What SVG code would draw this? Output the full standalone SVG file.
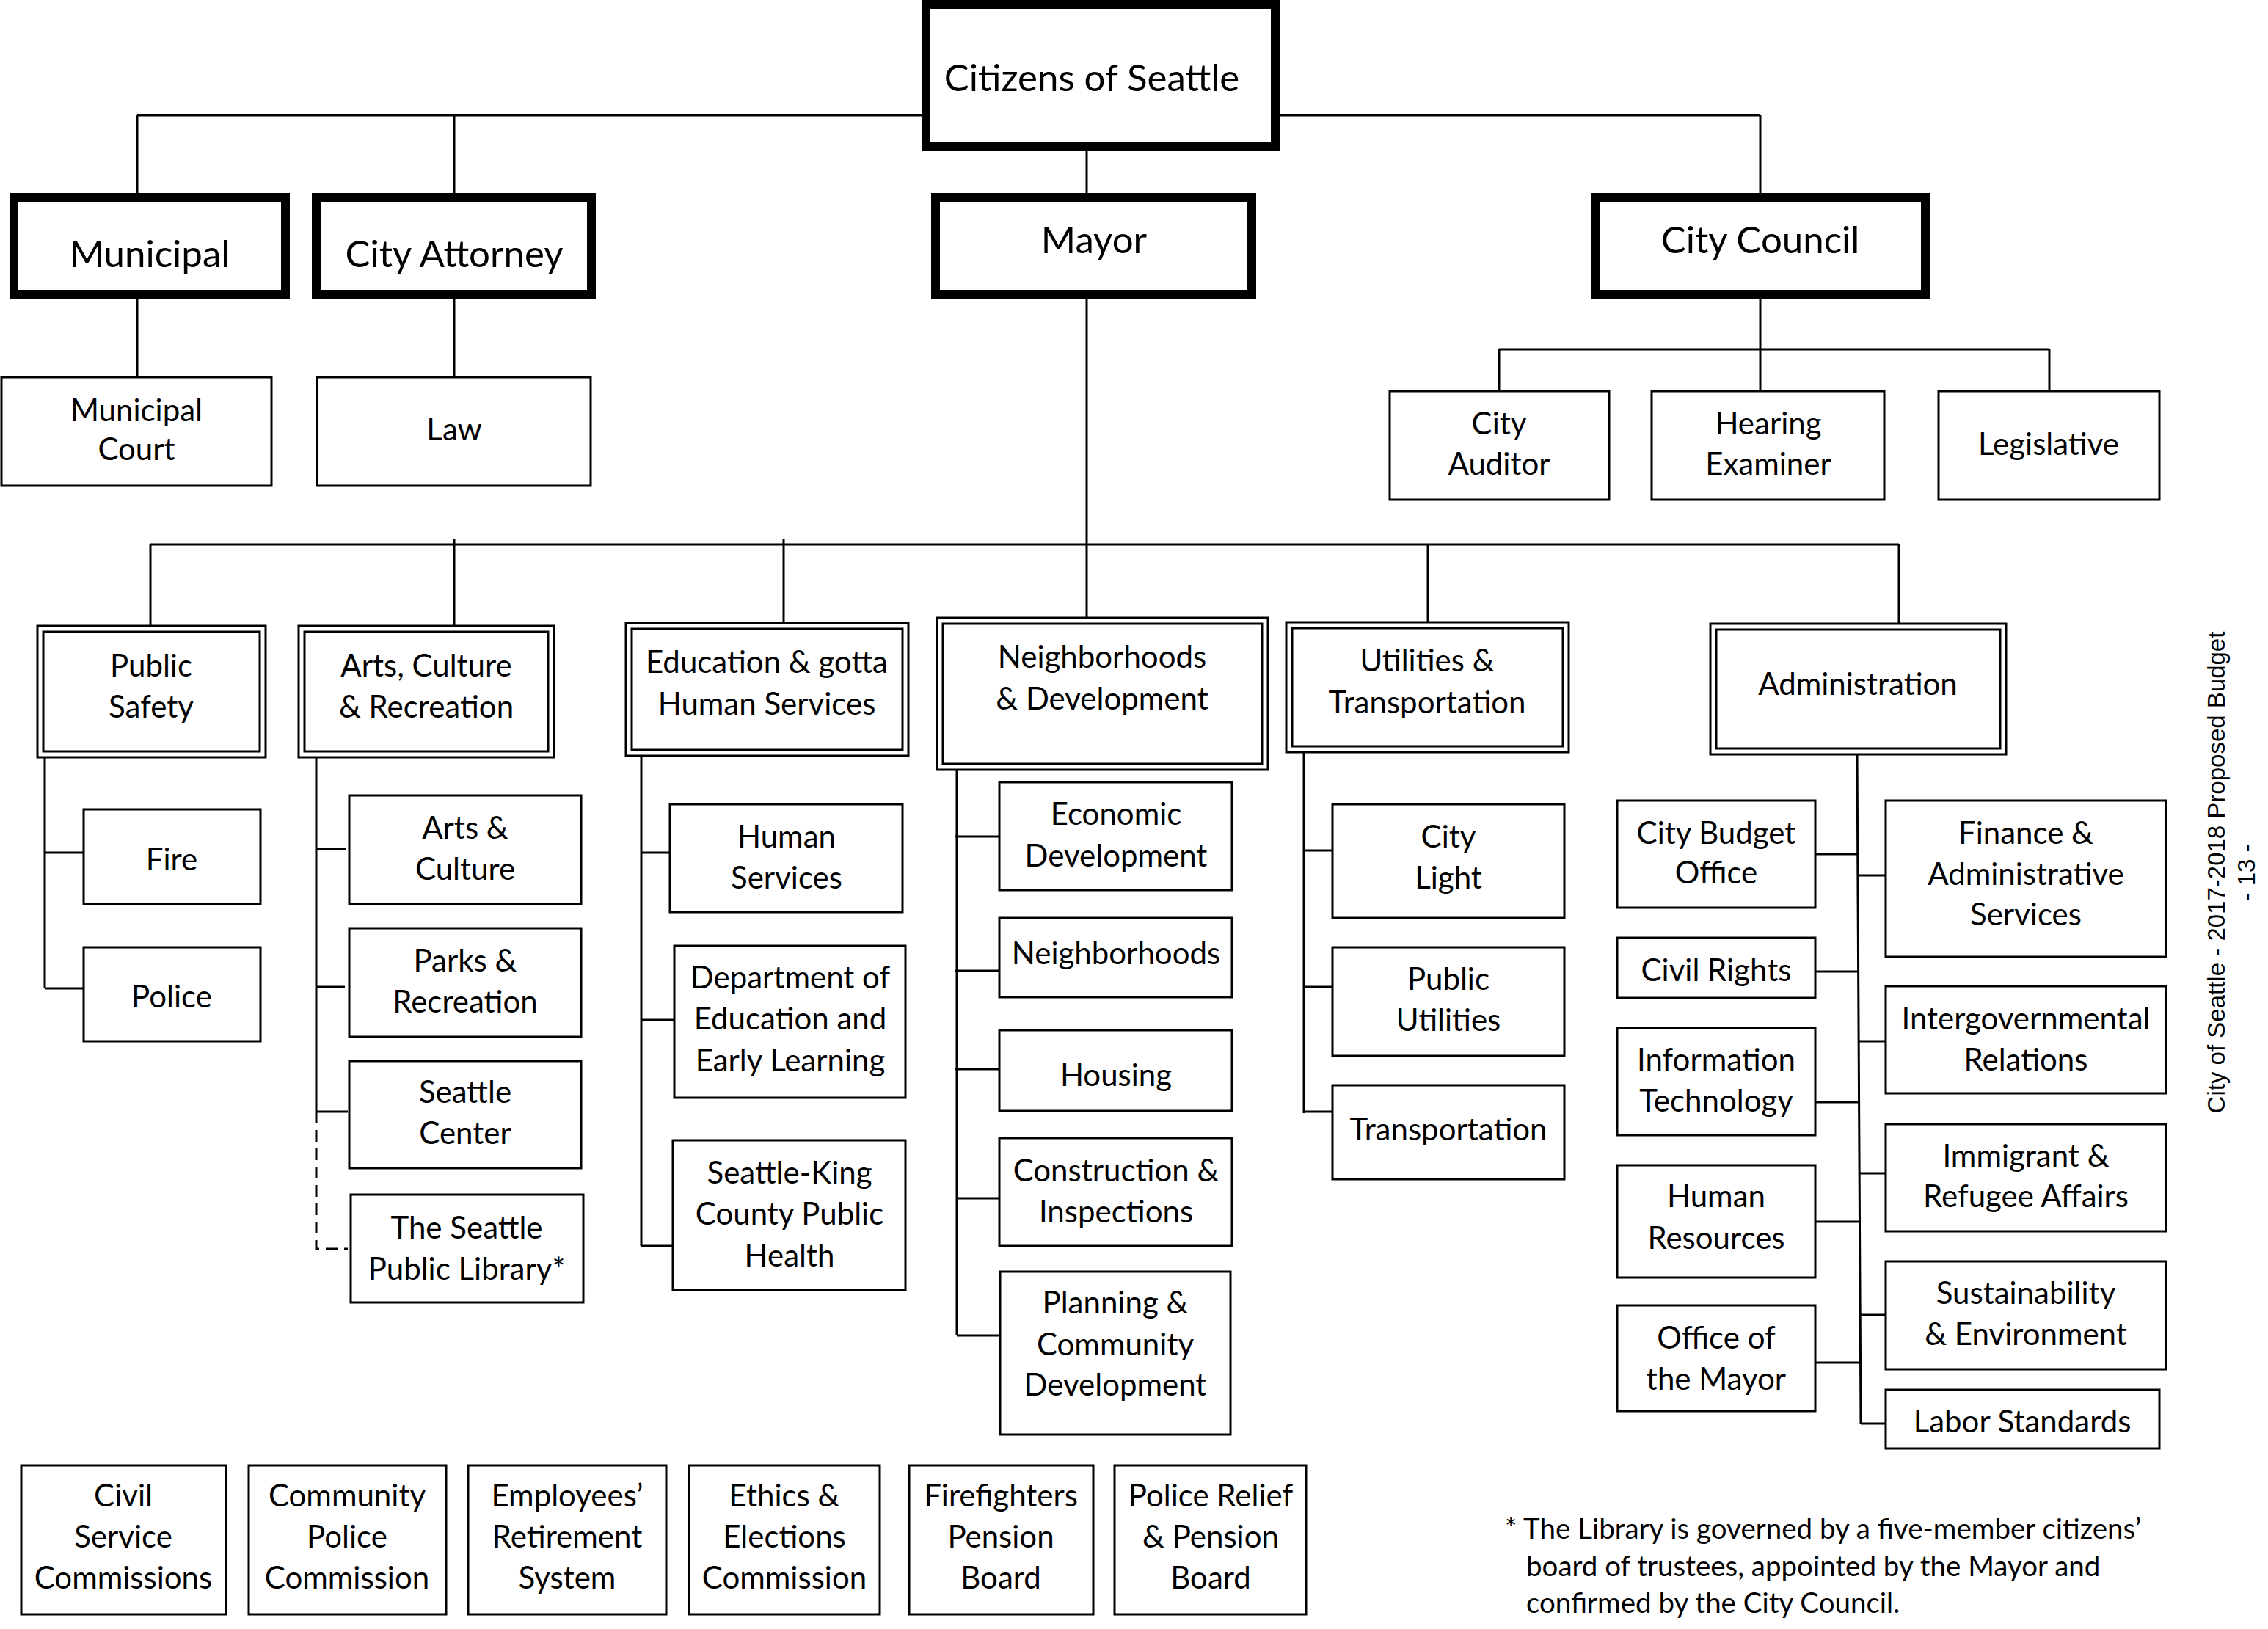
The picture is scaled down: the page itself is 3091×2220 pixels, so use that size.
<svg xmlns="http://www.w3.org/2000/svg" width="3091" height="2220" viewBox="0 0 3091 2220">
<style>
.ln{stroke:#000;stroke-width:3;fill:none}
.dash{stroke-dasharray:16 9}
.thick{fill:#fff;stroke:#000;stroke-width:12}
.box{fill:#fff;stroke:#000;stroke-width:3}
.in{fill:none;stroke:#000;stroke-width:3}
text{font-family:Lato,"Open Sans","Liberation Sans",sans-serif;fill:#000;text-anchor:middle}
.t1{font-size:51px}
.t2{font-size:42px}
.fn{font-size:38.5px;text-anchor:start}
.side{font-family:"Liberation Sans",Arial,sans-serif;font-size:33px}
</style>
<rect width="3091" height="2220" fill="#fff"/>
<g id="connectors">
<path class="ln" d="M187 157H2399M187 157V263M619 157V263M2399 157V263M1481 206V263"/>
<path class="ln" d="M187 407V514M619 407V514"/>
<path class="ln" d="M2399 407V533M2043 476H2793M2043 476V533M2793 476V533"/>
<path class="ln" d="M1481 407V842M205 742H2588M205 742V853M619 735V853M1068 735V849M1946 742V848M2588 742V850"/>
<path class="ln" d="M61 1032V1347M61 1162H114M61 1347H114"/>
<path class="ln" d="M431 1032V1515M431 1157H471M431 1345H470M431 1515H474"/>
<path class="ln dash" d="M431 1515V1702H474"/>
<path class="ln" d="M874 1030V1698M874 1162H913M874 1390H919M874 1698H917"/>
<path class="ln" d="M1304 1049V1820M1301 1140H1362M1301 1323H1362M1301 1457H1362M1304 1633H1362M1304 1820H1363"/>
<path class="ln" d="M1777 1025V1517M1777 1159H1816M1777 1345H1816M1777 1515H1816"/>
<path class="ln" d="M2531 1028L2536 1940M2474 1164H2532M2474 1324H2532M2474 1502H2533M2474 1665H2534M2474 1857H2535M2532 1193H2570M2533 1419H2570M2534 1599H2570M2535 1792H2570M2536 1940H2570"/>
</g>
<g id="citizens"><rect class="thick" x="1262" y="6" width="476" height="194"/><text class="t1" x="1488" y="124">Citizens of Seattle</text></g>
<g id="municipal"><rect class="thick" x="19" y="269" width="370" height="132"/><text class="t1" x="204" y="364">Municipal</text></g>
<g id="city-attorney"><rect class="thick" x="431" y="269" width="375" height="132"/><text class="t1" x="619" y="364">City Attorney</text></g>
<g id="mayor"><rect class="thick" x="1275" y="269" width="431" height="132"/><text class="t1" x="1491" y="345">Mayor</text></g>
<g id="city-council"><rect class="thick" x="2175" y="269" width="449" height="132"/><text class="t1" x="2399" y="345">City Council</text></g>

<g id="municipal-court"><rect class="box" x="2" y="514" width="368" height="148"/><text class="t2" x="186" y="574">Municipal</text><text class="t2" x="186" y="627">Court</text></g>
<g id="law"><rect class="box" x="432" y="514" width="373" height="148"/><text class="t2" x="619" y="600">Law</text></g>
<g id="city-auditor"><rect class="box" x="1894" y="533" width="299" height="148"/><text class="t2" x="2043" y="592">City</text><text class="t2" x="2043" y="647">Auditor</text></g>
<g id="hearing-examiner"><rect class="box" x="2251" y="533" width="317" height="148"/><text class="t2" x="2410" y="592">Hearing</text><text class="t2" x="2410" y="647">Examiner</text></g>
<g id="legislative"><rect class="box" x="2642" y="533" width="301" height="148"/><text class="t2" x="2792" y="620">Legislative</text></g>

<g id="public-safety"><rect class="box" x="51" y="853" width="311" height="179"/><rect class="in" x="59" y="861" width="295" height="163"/><text class="t2" x="206" y="922">Public</text><text class="t2" x="206" y="978">Safety</text></g>
<g id="arts-culture-recreation"><rect class="box" x="407" y="853" width="348" height="179"/><rect class="in" x="415" y="861" width="332" height="163"/><text class="t2" x="581" y="922">Arts, Culture</text><text class="t2" x="581" y="978">&amp; Recreation</text></g>
<g id="education-human-services"><rect class="box" x="853" y="849" width="385" height="181"/><rect class="in" x="861" y="857" width="369" height="165"/><text class="t2" x="1045" y="917">Education &amp; gotta</text><text class="t2" x="1045" y="974">Human Services</text></g>
<g id="neighborhoods-development"><rect class="box" x="1277" y="842" width="451" height="207"/><rect class="in" x="1285" y="850" width="435" height="191"/><text class="t2" x="1502" y="910">Neighborhoods</text><text class="t2" x="1502" y="967">&amp; Development</text></g>
<g id="utilities-transportation"><rect class="box" x="1753" y="848" width="385" height="177"/><rect class="in" x="1761" y="856" width="369" height="161"/><text class="t2" x="1945" y="915">Utilities &amp;</text><text class="t2" x="1945" y="972">Transportation</text></g>
<g id="administration"><rect class="box" x="2331" y="850" width="403" height="178"/><rect class="in" x="2339" y="858" width="387" height="162"/><text class="t2" x="2532" y="947">Administration</text></g>

<g id="fire"><rect class="box" x="114" y="1103" width="241" height="129"/><text class="t2" x="234" y="1186">Fire</text></g>
<g id="police"><rect class="box" x="114" y="1291" width="241" height="128"/><text class="t2" x="234" y="1373">Police</text></g>

<g id="arts-culture"><rect class="box" x="476" y="1084" width="316" height="148"/><text class="t2" x="634" y="1143">Arts &amp;</text><text class="t2" x="634" y="1199">Culture</text></g>
<g id="parks-recreation"><rect class="box" x="476" y="1265" width="316" height="148"/><text class="t2" x="634" y="1324">Parks &amp;</text><text class="t2" x="634" y="1380">Recreation</text></g>
<g id="seattle-center"><rect class="box" x="476" y="1446" width="316" height="146"/><text class="t2" x="634" y="1503">Seattle</text><text class="t2" x="634" y="1559">Center</text></g>
<g id="seattle-public-library"><rect class="box" x="478" y="1628" width="317" height="147"/><text class="t2" x="636" y="1688">The Seattle</text><text class="t2" x="636" y="1744">Public Library*</text></g>

<g id="human-services"><rect class="box" x="913" y="1096" width="317" height="147"/><text class="t2" x="1072" y="1155">Human</text><text class="t2" x="1072" y="1211">Services</text></g>
<g id="dept-education"><rect class="box" x="919" y="1289" width="315" height="207"/><text class="t2" x="1077" y="1347">Department of</text><text class="t2" x="1077" y="1403">Education and</text><text class="t2" x="1077" y="1460">Early Learning</text></g>
<g id="seattle-king-county"><rect class="box" x="917" y="1554" width="317" height="204"/><text class="t2" x="1076" y="1613">Seattle-King</text><text class="t2" x="1076" y="1669">County Public</text><text class="t2" x="1076" y="1726">Health</text></g>

<g id="economic-development"><rect class="box" x="1362" y="1066" width="317" height="147"/><text class="t2" x="1521" y="1124">Economic</text><text class="t2" x="1521" y="1181">Development</text></g>
<g id="neighborhoods"><rect class="box" x="1362" y="1251" width="317" height="108"/><text class="t2" x="1521" y="1314">Neighborhoods</text></g>
<g id="housing"><rect class="box" x="1362" y="1404" width="317" height="110"/><text class="t2" x="1521" y="1480">Housing</text></g>
<g id="construction-inspections"><rect class="box" x="1362" y="1551" width="317" height="147"/><text class="t2" x="1521" y="1610">Construction &amp;</text><text class="t2" x="1521" y="1666">Inspections</text></g>
<g id="planning-community"><rect class="box" x="1363" y="1733" width="314" height="222"/><text class="t2" x="1520" y="1790">Planning &amp;</text><text class="t2" x="1520" y="1847">Community</text><text class="t2" x="1520" y="1902">Development</text></g>

<g id="city-light"><rect class="box" x="1816" y="1096" width="316" height="155"/><text class="t2" x="1974" y="1155">City</text><text class="t2" x="1974" y="1211">Light</text></g>
<g id="public-utilities"><rect class="box" x="1816" y="1291" width="316" height="148"/><text class="t2" x="1974" y="1349">Public</text><text class="t2" x="1974" y="1405">Utilities</text></g>
<g id="transportation"><rect class="box" x="1816" y="1479" width="316" height="128"/><text class="t2" x="1974" y="1554">Transportation</text></g>

<g id="city-budget-office"><rect class="box" x="2204" y="1091" width="270" height="146"/><text class="t2" x="2339" y="1150">City Budget</text><text class="t2" x="2339" y="1204">Office</text></g>
<g id="civil-rights"><rect class="box" x="2204" y="1278" width="270" height="82"/><text class="t2" x="2339" y="1337">Civil Rights</text></g>
<g id="information-technology"><rect class="box" x="2204" y="1401" width="270" height="146"/><text class="t2" x="2339" y="1459">Information</text><text class="t2" x="2339" y="1515">Technology</text></g>
<g id="human-resources"><rect class="box" x="2204" y="1588" width="270" height="153"/><text class="t2" x="2339" y="1645">Human</text><text class="t2" x="2339" y="1702">Resources</text></g>
<g id="office-of-mayor"><rect class="box" x="2204" y="1779" width="270" height="144"/><text class="t2" x="2339" y="1838">Office of</text><text class="t2" x="2339" y="1894">the Mayor</text></g>

<g id="finance-admin"><rect class="box" x="2570" y="1091" width="382" height="213"/><text class="t2" x="2761" y="1150">Finance &amp;</text><text class="t2" x="2761" y="1206">Administrative</text><text class="t2" x="2761" y="1261">Services</text></g>
<g id="intergovernmental"><rect class="box" x="2570" y="1344" width="382" height="146"/><text class="t2" x="2761" y="1403">Intergovernmental</text><text class="t2" x="2761" y="1459">Relations</text></g>
<g id="immigrant-refugee"><rect class="box" x="2570" y="1532" width="382" height="146"/><text class="t2" x="2761" y="1590">Immigrant &amp;</text><text class="t2" x="2761" y="1645">Refugee Affairs</text></g>
<g id="sustainability"><rect class="box" x="2570" y="1719" width="382" height="147"/><text class="t2" x="2761" y="1777">Sustainability</text><text class="t2" x="2761" y="1833">&amp; Environment</text></g>
<g id="labor-standards"><rect class="box" x="2570" y="1894" width="373" height="80"/><text class="t2" x="2756" y="1952">Labor Standards</text></g>

<g id="civil-service"><rect class="box" x="29" y="1997" width="279" height="203"/><text class="t2" x="168" y="2053">Civil</text><text class="t2" x="168" y="2109">Service</text><text class="t2" x="168" y="2165">Commissions</text></g>
<g id="community-police"><rect class="box" x="339" y="1997" width="269" height="203"/><text class="t2" x="473" y="2053">Community</text><text class="t2" x="473" y="2109">Police</text><text class="t2" x="473" y="2165">Commission</text></g>
<g id="employees-retirement"><rect class="box" x="638" y="1997" width="270" height="203"/><text class="t2" x="773" y="2053">Employees’</text><text class="t2" x="773" y="2109">Retirement</text><text class="t2" x="773" y="2165">System</text></g>
<g id="ethics-elections"><rect class="box" x="939" y="1997" width="260" height="203"/><text class="t2" x="1069" y="2053">Ethics &amp;</text><text class="t2" x="1069" y="2109">Elections</text><text class="t2" x="1069" y="2165">Commission</text></g>
<g id="firefighters-pension"><rect class="box" x="1239" y="1997" width="251" height="203"/><text class="t2" x="1364" y="2053">Firefighters</text><text class="t2" x="1364" y="2109">Pension</text><text class="t2" x="1364" y="2165">Board</text></g>
<g id="police-relief-pension"><rect class="box" x="1519" y="1997" width="261" height="203"/><text class="t2" x="1650" y="2053">Police Relief</text><text class="t2" x="1650" y="2109">&amp; Pension</text><text class="t2" x="1650" y="2165">Board</text></g>

<g id="footnote"><text class="fn" x="2051" y="2097">* The Library is governed by a five-member citizens’</text><text class="fn" x="2080" y="2148">board of trustees, appointed by the Mayor and</text><text class="fn" x="2080" y="2198">confirmed by the City Council.</text></g>
<g id="side-note"><text class="side" transform="translate(3032 1189) rotate(-90)">City of Seattle - 2017-2018 Proposed Budget</text><text class="side" transform="translate(3073 1189) rotate(-90)">- 13 -</text></g>
</svg>
